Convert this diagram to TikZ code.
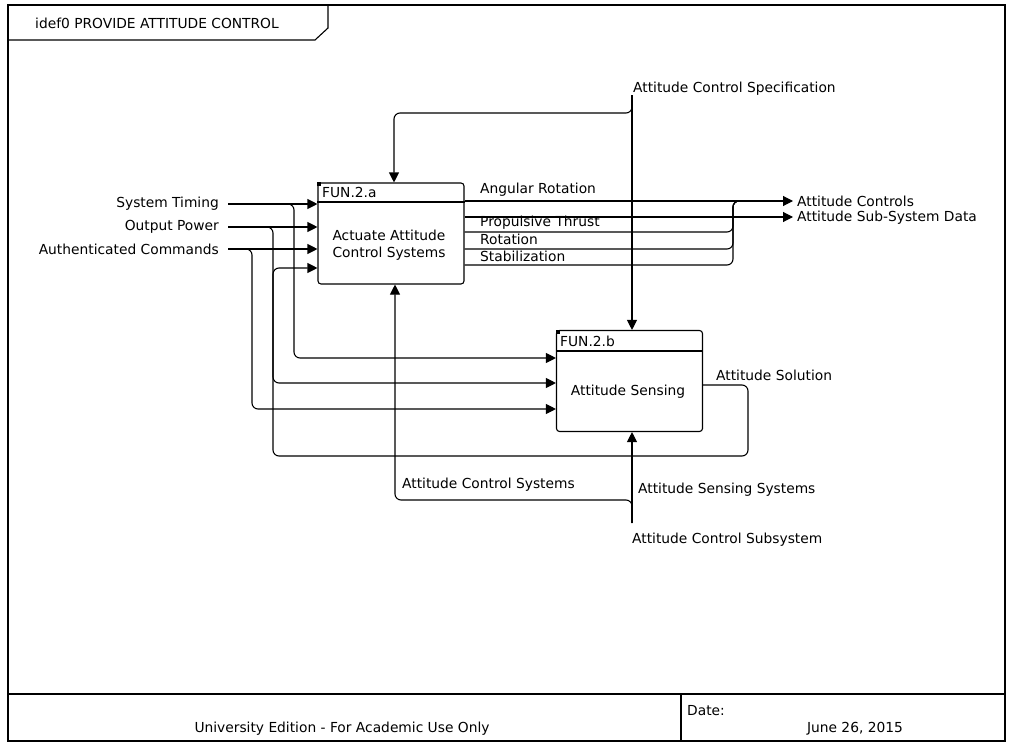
\documentclass[tikz,border=0pt]{standalone}
\usepackage{fontspec}
\setmainfont{DejaVu Sans}
\usetikzlibrary{arrows.meta}

\begin{document}
\begin{tikzpicture}[x=1pt,y=-1pt,
frame/.style={draw=black,line width=1.6pt},
activity/.style={draw=black,line width=1.1pt,rounded corners=3pt,minimum width=146pt,minimum height=101pt,inner sep=0pt},
flow/.style={-{Triangle[length=10pt,width=10pt]},line width=1.1pt,rounded corners=6pt},
wire/.style={line width=1.1pt,rounded corners=6pt},
lab/.style={font=\fontsize{13.8}{17}\selectfont,inner sep=0pt}]
\useasboundingbox[fill=white] (0,0) rectangle (1010,744);
% sheet frame, title tab and footer
\draw[frame] (8,5) rectangle (1005,741);
\draw[frame] (8,694) -- (1005,694);
\draw[frame] (681,694) -- (681,741);
\draw[line width=1.1pt] (8,40) -- (315,40) -- (328,28) -- (328,5);
\node[lab,anchor=west] (title) at (35,23) {idef0 PROVIDE ATTITUDE CONTROL};
\node[lab] (edition) at (342,729) {University Edition - For Academic Use Only};
\node[lab,anchor=west] (datekey) at (687,711) {Date:};
\node[lab] (date) at (855,729) {June 26, 2015};
% activities
\node[activity] (actuate) at (391,233.5) {};
\node[activity] (sensing) at (629.5,381) {};
\draw[line width=1.1pt] (actuate.west |- 0,202) -- (actuate.east |- 0,202);
\draw[line width=1.1pt] (sensing.west |- 0,351) -- (sensing.east |- 0,351);
\fill (actuate.north west) rectangle ++(4,4);
\fill (sensing.north west) rectangle ++(4,4);
\node[lab,anchor=west] (funa) at (322,192) {FUN.2.a};
\node[lab,align=center] (actuatetxt) at (389,245) {Actuate Attitude\\Control Systems};
\node[lab,anchor=west] (funb) at (560,341) {FUN.2.b};
\node[lab] (sensingtxt) at (628,392) {Attitude Sensing};
% inputs
\coordinate (timing) at (228,204);
\coordinate (power) at (228,227);
\coordinate (commands) at (228,249);
\node[lab,anchor=east] (timinglab) at (219,204) {System Timing};
\node[lab,anchor=east] (powerlab) at (219,227) {Output Power};
\node[lab,anchor=east] (commandslab) at (219,249) {Authenticated Commands};
\draw[flow] (timing) -- (timing -| actuate.west);
\draw[flow] (power) -- (power -| actuate.west);
\draw[flow] (commands) -- (commands -| actuate.west);
\draw[flow] (timing) -- (294,204) -- (294,358) -- (sensing.west |- 0,358);
\draw[flow] (power) -- (273,227) -- (273,383) -- (sensing.west |- 0,383);
\draw[flow] (commands) -- (252,249) -- (252,409) -- (sensing.west |- 0,409);
% feedback of the solution
\draw[flow] (sensing.east |- 0,385) -- (748,385) -- (748,456) -- (273,456) -- (273,268) -- (actuate.west |- 0,268);
\node[lab,anchor=west] (solutionlab) at (716,375) {Attitude Solution};
% outputs
\coordinate (controls) at (793,201);
\coordinate (subdata) at (793,217);
\draw[flow] (actuate.east |- controls) -- (controls);
\draw[flow] (actuate.east |- subdata) -- (subdata);
\draw[wire] (actuate.east |- 0,232) -- (733,232) -- (733,201) -- (760,201);
\draw[wire] (actuate.east |- 0,249) -- (733,249) -- (733,201) -- (760,201);
\draw[wire] (actuate.east |- 0,265) -- (733,265) -- (733,201) -- (760,201);
\node[lab,anchor=west] (angularlab) at (480,190) {Angular Rotation};
\node[lab,anchor=west] (thrustlab) at (480,223) {Propulsive Thrust};
\node[lab,anchor=west] (rotationlab) at (480,239) {Rotation};
\node[lab,anchor=west] (stablab) at (480,256) {Stabilization};
\node[lab,anchor=west] (controlslab) at (797,201) {Attitude Controls};
\node[lab,anchor=west] (subdatalab) at (797,218) {Attitude Sub-System Data};
% control
\coordinate (spec) at (632,95);
\node[lab,anchor=west] (speclab) at (633,89) {Attitude Control Specification};
\draw[flow] (spec) -- (spec |- sensing.north);
\draw[flow] (spec) -- (632,113) -- (394,113) -- (394,0 |- actuate.north);
% mechanisms
\coordinate (subsys) at (632,523);
\node[lab,anchor=west] (subsyslab) at (632,540) {Attitude Control Subsystem};
\draw[flow] (subsys) -- (subsys |- sensing.south);
\draw[flow] (subsys) -- (632,500) -- (395,500) -- (395,0 |- actuate.south);
\node[lab,anchor=west] (acslab) at (402,485) {Attitude Control Systems};
\node[lab,anchor=west] (asslab) at (638,490) {Attitude Sensing Systems};
\end{tikzpicture}
\end{document}
